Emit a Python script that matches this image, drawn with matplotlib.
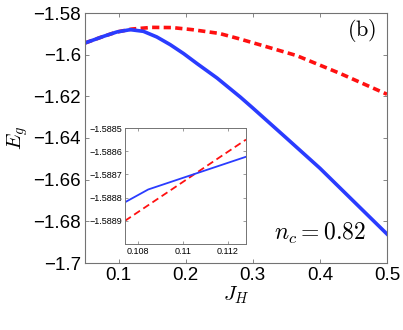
import matplotlib
matplotlib.use("Agg")
from matplotlib import pyplot as plt

plt.rcParams['font.family'] = ['Liberation Sans', 'DejaVu Sans']
plt.rcParams['mathtext.fontset'] = 'cm'

# main panel, values
jh_blue = [0.05, 0.0776, 0.0975, 0.1175, 0.137, 0.157, 0.177, 0.197, 0.217,
           0.2467, 0.2816, 0.3, 0.35, 0.4, 0.45, 0.5]
e_blue = [-1.5944, -1.5912, -1.5891, -1.5880, -1.5888, -1.5915, -1.5952, -1.5995,
          -1.6043, -1.6112, -1.6204, -1.6256, -1.6400, -1.6545, -1.6703, -1.6861]
jh_red = [0.05, 0.0776, 0.0975, 0.12, 0.15, 0.18, 0.21, 0.25, 0.28, 0.31,
          0.365, 0.43, 0.5]
e_red = [-1.5944, -1.5912, -1.5891, -1.5877, -1.5869, -1.5870, -1.5880, -1.5898,
         -1.5924, -1.5952, -1.6004, -1.6090, -1.6190]

# inset
jh_in_blue = [0.10744, 0.10847, 0.11281]
e_in_blue = [-1.58882, -1.588765, -1.588624]
jh_in_red = [0.10744, 0.11281]
e_in_red = [-1.58890, -1.58855]

blue = '#2a3cff'
red = '#ff1010'
spine = '0.45'

fig = plt.figure(figsize=(4.03, 3.30), dpi=100)
ax = fig.add_axes([85/403, 1 - 263/330, 302/403, 250/330])
ax.plot(jh_red, e_red, '--', color=red, lw=2.6, dashes=(2, 1.2))
ax.plot(jh_blue, e_blue, '-', color=blue, lw=2.6, solid_joinstyle='round')
ax.set_xlim(0.05, 0.5)
ax.set_ylim(-1.7, -1.58)
ax.set_xticks([0.1, 0.2, 0.3, 0.4, 0.5])
ax.set_xticklabels(['0.1', '0.2', '0.3', '0.4', '0.5'])
ax.set_yticks([-1.7, -1.68, -1.66, -1.64, -1.62, -1.6, -1.58])
ax.set_yticklabels(['\u22121.7', '\u22121.68', '\u22121.66', '\u22121.64',
                    '\u22121.62', '\u22121.6', '\u22121.58'])
ax.tick_params(direction='in', top=True, right=True, labelsize=13.5,
               length=3, width=0.6, color=spine, pad=3)
for s in ax.spines.values():
    s.set_color(spine)
    s.set_linewidth(0.8)
ax.set_xlabel(r'$J_H$', fontsize=15, labelpad=0)
ax.set_ylabel(r'$E_g$', fontsize=15, labelpad=2)
ax.text(0.965, 0.93, r'$\mathrm{(b)}$', transform=ax.transAxes, ha='right',
        va='center', fontsize=16)
ax.text(0.93, 0.12, r'$n_c = 0.82$', transform=ax.transAxes, ha='right',
        va='center', fontsize=17)

ins = fig.add_axes([125/403, 1 - 244/330, 121/403, 116/330])
ins.plot(jh_in_red, e_in_red, '--', color=red, lw=1.3, dashes=(3.9, 2.2))
ins.plot(jh_in_blue, e_in_blue, '-', color=blue, lw=1.3)
ins.set_xlim(0.10744, 0.11281)
ins.set_ylim(-1.589, -1.5885)
ins.set_xticks([0.108, 0.11, 0.112])
ins.set_xticklabels(['0.108', '0.11', '0.112'])
ins.set_yticks([-1.5889, -1.5888, -1.5887, -1.5886, -1.5885])
ins.set_yticklabels(['\u22121.5889', '\u22121.5888', '\u22121.5887',
                     '\u22121.5886', '\u22121.5885'])
ins.tick_params(direction='in', top=True, right=True, labelsize=6.5,
                length=2, width=0.5, color=spine, pad=2)
for s in ins.spines.values():
    s.set_color(spine)
    s.set_linewidth(0.7)

fig.savefig('out.png', dpi=100)
